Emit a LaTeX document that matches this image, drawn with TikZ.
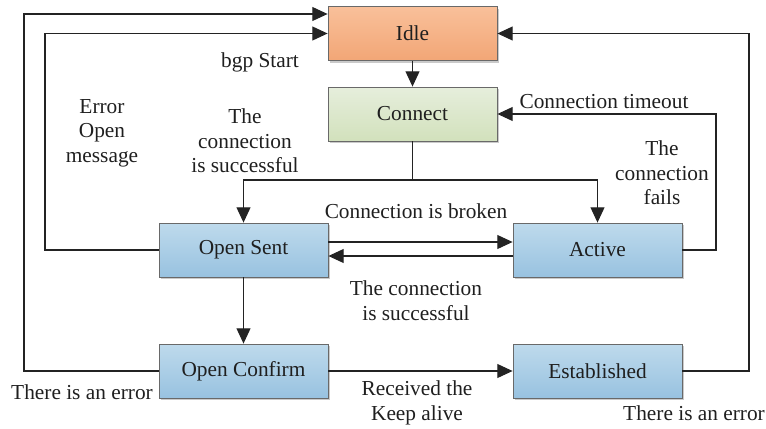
\documentclass[tikz,border=0pt]{standalone}
\usepackage{fontspec}
\setmainfont{Liberation Serif}
\usetikzlibrary{arrows.meta,shadows}
\definecolor{idletop}{RGB}{249,192,154}
\definecolor{idlebot}{RGB}{242,166,118}
\definecolor{conntop}{RGB}{230,238,220}
\definecolor{connbot}{RGB}{210,225,188}
\definecolor{bluetop}{RGB}{190,218,236}
\definecolor{bluebot}{RGB}{152,194,224}
\definecolor{boxline}{RGB}{105,105,105}
\definecolor{wire}{RGB}{35,35,35}
\begin{document}
\begin{tikzpicture}[x=0.75pt,y=-0.75pt,
  txt/.style={font=\fontsize{16}{18.5}\selectfont, text=black!88, inner sep=0pt},
  state/.style={draw=boxline, line width=0.6pt, minimum width=126.75pt,
    minimum height=40.5pt, inner sep=0pt, txt,
    drop shadow={shadow xshift=1.6pt, shadow yshift=-1.6pt, opacity=0.35, fill=black!60}},
  idlebox/.style={state, top color=idletop, bottom color=idlebot},
  connbox/.style={state, top color=conntop, bottom color=connbot},
  bluebox/.style={state, top color=bluetop, bottom color=bluebot},
  wireline/.style={draw=wire, line width=0.8pt},
  arr/.style={wireline, -{Triangle[length=11.5pt,width=10.5pt]}},
  lbl/.style={txt, align=center}]
\useasboundingbox (0,0) rectangle (766,428);

% states
\node[idlebox] (idle) at (412.5,33.5) {Idle};
\node[connbox] (conn) at (412.5,114) {Connect};
\node[bluebox] (osent) at (243.5,250) {Open Sent};
\node[bluebox] (active) at (597.5,250) {Active};
\node[bluebox] (oconf) at (243.5,371) {Open Confirm};
\node[bluebox] (estab) at (597.5,371) {Established};

% error paths back to Idle on the left
\draw[arr] (oconf.west) -| (24,14) -- (idle.west |- 24,14);
\draw[arr] (osent.west) -| (45,33.5) -- (idle.west);

% start
\draw[arr] (idle.south) -- (conn.north);

% Connect splits to Open Sent and Active
\coordinate (split) at (412.5,180);
\draw[wireline] (conn.south) -- (split);
\draw[arr] (split) -| (osent.north);
\draw[arr] (split) -| (active.north);

% Active back to Connect
\draw[arr] (active.east) -| (716,114) -- (conn.east);

% Established back to Idle
\draw[arr] (estab.east) -| (749,33.5) -- (idle.east);

% Open Sent <-> Active
\draw[arr] (osent.east |- 0,242) -- (active.west |- 0,242);
\draw[arr] (active.west |- 0,256) -- (osent.east |- 0,256);

% forward path
\draw[arr] (osent.south) -- (oconf.north);
\draw[arr] (oconf.east) -- (estab.west);

% labels
\node[lbl] at (260,62) {bgp Start};
\node[lbl] at (102,133) {Error\\Open\\message};
\node[lbl] at (245,141) {The\\connection\\is successful};
\node[lbl] at (604,102) {Connection timeout};
\node[lbl] at (662,173) {The\\connection\\fails};
\node[lbl] at (416,211) {Connection is broken};
\node[lbl] at (416,301) {The connection\\is successful};
\node[lbl] at (417,403) {Received the\\Keep alive};
\node[lbl] at (82,392) {There is an error};
\node[lbl] at (694,413) {There is an error};
\end{tikzpicture}
\end{document}
